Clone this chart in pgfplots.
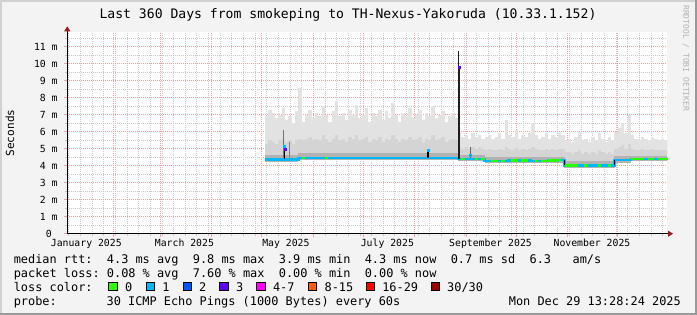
\documentclass[border=0pt]{standalone}
\usepackage{pgfplots}
\pgfplotsset{compat=1.18}
\usepackage{pgfplotstable}
\usetikzlibrary{arrows.meta}
\usepackage{fontspec}
\setmainfont{DejaVu Sans Mono}
\frenchspacing
\definecolor{bgc}{HTML}{F3F3F3}
\definecolor{l0}{HTML}{26FF00}
\definecolor{l1}{HTML}{00B8FF}
\definecolor{l2}{HTML}{0059FF}
\definecolor{l3}{HTML}{5E00FF}
\definecolor{l4}{HTML}{FF00FF}
\definecolor{l8}{HTML}{FF5E00}
\definecolor{l16}{HTML}{FF0000}
\definecolor{l30}{HTML}{A10000}
\definecolor{smA}{HTML}{E2E2E2}
\definecolor{smB}{HTML}{D4D4D4}
\definecolor{smC}{HTML}{B2B2B2}
\definecolor{mgrid}{HTML}{F2A0A0}
\definecolor{ngrid}{HTML}{C8C8C8}
\definecolor{axred}{HTML}{9C1A1A}
\newcommand\lf{\fontsize{11.9bp}{14bp}\selectfont}
\newcommand\af{\fontsize{9.8bp}{12bp}\selectfont}

\pgfplotstableread{
d lo m1 m2 hi med g
122 4.24 4.62 5.3 6.9 4.36 nan
124 4.24 4.62 5.5 7.3 4.36 nan
126 4.24 4.62 5.4 7.1 4.36 nan
128 4.24 4.62 5.3 6.8 4.36 nan
130 4.24 4.62 5.5 7.0 4.36 nan
132 4.24 4.65 5.6 7.4 4.36 nan
134 4.24 4.65 5.4 6.7 4.36 nan
136 4.24 4.62 5.5 6.9 4.36 nan
138 4.24 4.62 5.3 6.5 4.36 nan
140 4.24 4.62 5.5 7.2 4.36 nan
142 4.32 4.72 5.6 8.6 4.45 nan
144 4.32 4.72 5.5 6.6 4.45 4.45
146 4.32 4.72 5.6 7.0 4.45 nan
148 4.32 4.72 5.7 7.3 4.45 nan
150 4.32 4.72 5.5 6.8 4.45 nan
152 4.32 4.72 5.6 7.1 4.45 nan
154 4.32 4.72 5.5 6.9 4.45 nan
156 4.32 4.72 5.8 7.5 4.45 nan
158 4.32 4.72 5.6 7.0 4.45 4.45
160 4.32 4.72 5.4 6.6 4.45 nan
162 4.32 4.72 5.6 7.2 4.45 nan
164 4.32 4.72 5.8 7.8 4.45 nan
166 4.32 4.72 5.5 6.9 4.45 nan
168 4.32 4.72 5.6 7.1 4.45 nan
170 4.32 4.72 5.4 6.7 4.45 nan
172 4.32 4.72 5.7 7.3 4.45 nan
174 4.32 4.72 5.6 7.0 4.45 nan
176 4.32 4.72 5.8 7.6 4.45 nan
178 4.32 4.72 5.5 6.8 4.45 nan
180 4.32 4.72 5.6 7.0 4.45 nan
182 4.32 4.72 5.7 7.4 4.45 nan
184 4.32 4.72 5.4 6.6 4.45 nan
186 4.32 4.72 5.6 7.1 4.45 nan
188 4.32 4.72 5.5 6.9 4.45 nan
190 4.32 4.72 5.7 7.3 4.45 nan
192 4.32 4.72 5.4 6.7 4.45 nan
194 4.32 4.72 5.6 7.2 4.45 nan
196 4.32 4.72 5.5 6.8 4.45 nan
198 4.32 4.72 5.8 7.7 4.45 nan
200 4.32 4.72 5.6 7.0 4.45 nan
202 4.32 4.72 5.4 6.6 4.45 nan
204 4.32 4.72 5.6 7.1 4.45 nan
206 4.32 4.72 5.5 6.9 4.45 nan
208 4.32 4.72 5.7 7.4 4.45 nan
210 4.32 4.72 5.5 6.8 4.45 nan
212 4.32 4.72 5.6 7.0 4.45 nan
214 4.32 4.72 5.7 7.3 4.45 nan
216 4.32 4.72 5.4 6.7 4.45 nan
218 4.32 4.72 5.6 7.1 4.45 nan
220 4.32 4.72 5.5 6.9 4.45 nan
222 4.32 4.72 5.8 7.5 4.45 nan
224 4.32 4.72 5.5 6.8 4.45 nan
226 4.32 4.72 5.6 7.0 4.45 nan
228 4.32 4.72 5.7 7.2 4.45 nan
230 4.32 4.72 5.4 6.6 4.45 nan
232 4.32 4.72 5.5 6.9 4.45 nan
234 4.32 4.72 5.6 7.1 4.45 nan
236 4.32 4.72 5.5 6.8 4.45 nan
238 4.27 4.62 5.1 6.0 4.40 nan
240 4.27 4.62 5.0 5.7 4.40 4.40
242 4.27 4.62 5.1 5.8 4.40 nan
244 4.27 4.62 5.0 5.6 4.40 nan
246 4.27 4.62 5.1 5.9 4.40 nan
248 4.27 4.62 5.0 5.7 4.40 4.40
250 4.27 4.62 5.1 5.8 4.40 nan
252 4.27 4.62 5.0 5.6 4.40 4.40
254 4.15 4.50 4.95 5.7 4.28 nan
256 4.15 4.50 5.0 5.8 4.28 nan
258 4.15 4.50 4.9 5.6 4.28 4.28
260 4.15 4.50 4.95 5.7 4.28 4.28
262 4.15 4.50 5.0 5.9 4.28 nan
264 4.15 4.50 4.9 5.6 4.28 4.28
266 4.15 4.50 5.1 6.7 4.28 nan
268 4.15 4.50 5.0 5.8 4.30 nan
270 4.15 4.50 4.95 5.7 4.30 4.30
272 4.15 4.50 5.05 6.1 4.30 4.30
274 4.15 4.50 4.9 5.6 4.30 nan
276 4.15 4.50 5.0 5.8 4.30 4.30
278 4.15 4.50 4.95 5.7 4.30 4.30
280 4.15 4.50 5.0 5.9 4.30 nan
282 4.15 4.50 5.1 6.5 4.28 nan
284 4.15 4.50 5.0 5.8 4.28 4.28
286 4.15 4.50 4.9 5.6 4.28 nan
288 4.15 4.50 4.95 5.7 4.28 4.28
290 4.15 4.50 5.0 5.9 4.28 4.28
292 4.15 4.50 4.9 5.6 4.30 4.30
294 4.15 4.50 5.0 5.8 4.30 4.30
296 4.15 4.50 4.95 5.7 4.30 4.30
298 4.15 4.50 5.0 5.9 4.32 4.32
300 4.15 4.50 5.0 5.8 4.32 nan
302 3.88 4.25 4.8 5.5 4.02 4.02
304 3.88 4.25 4.8 5.6 4.02 4.02
306 3.88 4.25 4.7 5.4 4.02 4.02
308 3.88 4.25 4.8 5.7 4.02 4.02
310 3.88 4.25 4.9 6.0 4.02 nan
312 3.88 4.25 4.7 5.5 4.02 nan
314 3.88 4.25 4.8 5.6 4.02 4.02
316 3.88 4.25 4.7 5.4 4.02 nan
318 3.88 4.25 4.8 5.7 4.02 nan
320 3.88 4.25 4.7 5.5 4.02 nan
322 3.88 4.25 4.9 5.9 4.02 4.02
324 3.88 4.25 4.8 5.6 4.02 nan
326 3.88 4.25 4.7 5.4 4.02 nan
328 3.88 4.25 4.8 5.7 4.02 4.02
330 3.88 4.25 4.7 5.5 4.02 nan
332 4.18 4.55 5.0 6.0 4.32 nan
334 4.18 4.55 5.1 6.2 4.32 nan
336 4.18 4.55 5.2 6.5 4.32 nan
338 4.18 4.55 5.0 5.9 4.32 nan
340 4.18 4.55 5.3 7.0 4.32 nan
342 4.26 4.60 5.0 5.8 4.38 4.38
344 4.26 4.60 4.95 5.6 4.38 4.38
346 4.26 4.60 4.9 5.5 4.38 4.38
348 4.26 4.60 5.0 5.7 4.38 4.38
350 4.26 4.60 4.95 5.6 4.38 nan
352 4.26 4.60 4.9 5.5 4.38 4.38
354 4.26 4.60 5.0 5.7 4.38 4.38
356 4.26 4.60 4.95 5.6 4.38 nan
358 4.26 4.60 4.9 5.5 4.38 4.38
360 4.26 4.60 4.95 5.6 4.38 4.38
362 4.26 4.60 4.9 5.5 4.38 4.38
}\smoke

\begin{document}
\begin{tikzpicture}
\useasboundingbox (0,0) rectangle (697bp,315bp);
\fill[bgc] (0,0) rectangle (697bp,315bp);
\draw[line width=2bp, draw=black!18] (1bp,0) -- (1bp,314bp) -- (697bp,314bp);
\draw[line width=2bp, draw=black!40] (0,1bp) -- (696bp,1bp) -- (696bp,315bp);

\begin{axis}[
  at={(67.3bp,81.3bp)}, anchor=south west,
  scale only axis, width=599.7bp, height=201.4bp,
  xmin=3.1, xmax=363.6, ymin=0, ymax=11.85,
  axis background/.style={fill=white},
  axis x line=bottom, axis y line=left,
  x axis line style={line width=1bp, -{Triangle[length=5bp,width=6bp,color=axred]}, shorten >=-6bp},
  y axis line style={line width=1bp, -{Triangle[length=5bp,width=6bp,color=axred]}, shorten >=-6bp},
  grid=both,
  major grid style={draw=mgrid, dash pattern=on 1bp off 1bp, line width=0.8bp},
  minor grid style={draw=ngrid, dash pattern=on 1bp off 1bp, line width=0.8bp},
  xtick={31,59,90,120,151,181,212,243,273,304,334},
  xticklabel=\empty,
  minor xtick={4,11,...,361},
  ytick={0,1,...,11}, minor ytick={0.5,1.5,...,11.5},
  yticklabels={0~~,1 m,2 m,3 m,4 m,5 m,6 m,7 m,8 m,9 m,10 m,11 m},
  yticklabel style={font=\af, anchor=east, inner sep=0pt, xshift=-6.5bp},
  tick align=outside, major tick length=3bp, minor tick length=2bp,
  major tick style={draw=mgrid, line width=0.8bp},
  minor tick style={draw=ngrid, line width=0.8bp},
  extra x ticks={14.5,73.5,134.5,195.5,257.5,318.5},
  extra x tick labels={January 2025,March 2025,May 2025,July 2025,September 2025,November 2025},
  extra x tick style={grid=none, major tick length=0pt, xticklabel style={font=\af, anchor=base, inner sep=0pt, yshift=-12.3bp}},
  error bars/error mark=none,
]
% smoke: vertical bands lo..hi, lo..m2, lo..m1 (2 days wide)
\addplot[draw=none, mark=none, error bars/.cd, y dir=both, y explicit, error bar style={draw=smA, line width=3.45bp}]
  table[x expr=\thisrow{d}+1, y expr=(\thisrow{hi}+\thisrow{lo})/2, y error expr=(\thisrow{hi}-\thisrow{lo})/2]{\smoke};
\addplot[draw=none, mark=none, error bars/.cd, y dir=both, y explicit, error bar style={draw=smB, line width=3.45bp}]
  table[x expr=\thisrow{d}+1, y expr=(\thisrow{m2}+\thisrow{lo})/2, y error expr=(\thisrow{m2}-\thisrow{lo})/2]{\smoke};
\addplot[draw=none, mark=none, error bars/.cd, y dir=both, y explicit, error bar style={draw=smC, line width=3.45bp}]
  table[x expr=\thisrow{d}+1, y expr=(\thisrow{m1}+\thisrow{lo})/2, y error expr=(\thisrow{m1}-\thisrow{lo})/2]{\smoke};
% spikes
\addplot[draw=black!55, line width=0.8bp] coordinates {(133,4.4) (133,6.1)};
\addplot[draw=black!50, line width=0.8bp] coordinates {(136.5,4.45) (136.5,5.4)};
\addplot[draw=black!60, line width=1bp] coordinates {(245.5,4.4) (245.5,5.1)};
% median
\addplot[const plot, draw=l1, line width=2.4bp] table[x=d,y=med]{\smoke};
\addplot[only marks, mark=-, mark size=1.7bp, mark options={draw=l0, line width=2.4bp}] table[x expr=\thisrow{d}+1,y=g]{\smoke};
\addplot[draw=black, line width=1.6bp] coordinates {(133.6,4.4) (133.6,5.2)};
\addplot[only marks, mark=square*, mark size=0.9bp, l1] coordinates {(133.6,5.15)};
\addplot[only marks, mark=square*, mark size=0.9bp, l3] coordinates {(134.2,4.98)};
\addplot[draw=black, line width=1.6bp] coordinates {(220,4.45) (220,4.95)};
\addplot[only marks, mark=square*, mark size=0.9bp, l1] coordinates {(220,4.93)};
\addplot[draw=black!88, line width=2.2bp] coordinates {(238.5,4.4) (238.5,9.82)};
\addplot[draw=black!88, line width=1.1bp] coordinates {(238.3,9.82) (238.3,10.76)};
\addplot[only marks, mark=square*, mark size=1bp, l3] coordinates {(238.9,9.82)};
\addplot[only marks, mark=square*, mark size=0.9bp, l1] coordinates {(245.5,4.6)};
\addplot[draw=black, line width=1bp] coordinates {(302,4.32) (302,4.02)};
\addplot[draw=black, line width=1bp] coordinates {(332,4.02) (332,4.32)};
\end{axis}

% title
\node[anchor=base, inner sep=0] at (348bp,296.5bp) {\fontsize{13.1bp}{15bp}\selectfont Last 360 Days from smokeping to TH-Nexus-Yakoruda (10.33.1.152)};
\node[rotate=90, inner sep=0] at (10bp,182bp) {\fontsize{11.1bp}{13bp}\selectfont Seconds};
\node[rotate=-90, anchor=west, inner sep=0, text=black!30] at (686bp,310bp) {\fontsize{8bp}{10bp}\selectfont RRDTOOL / TOBI OETIKER};

% legend
\node[anchor=base west, inner sep=0] at (13.6bp,51.5bp) {\lf median rtt:~~4.3 ms avg~~9.8 ms max~~3.9 ms min~~4.3 ms now~~0.7 ms sd~~6.3~~~am/s};
\node[anchor=base west, inner sep=0] at (13.6bp,37.5bp) {\lf packet loss: 0.08 \% avg~~7.60 \% max~~0.00 \% min~~0.00 \% now};
\node[anchor=base west, inner sep=0] at (13.6bp,23.5bp) {\lf loss color:};
\foreach \bx/\bc/\bt in {108/l0/0, 145.3/l1/1, 182.2/l2/2, 219/l3/3, 256/l4/4-7, 307.6/l8/8-15, 365.3/l16/16-29, 430.2/l30/30\slash 30} {
  \node[draw=black, line width=0.8bp, fill=\bc, minimum size=8.2bp, inner sep=0, anchor=south west] at (\bx bp+0.4bp,23.7bp) {};
  \node[anchor=base west, inner sep=0] at (\bx bp+16.8bp,23.5bp) {\lf \bt};
}
\node[anchor=base west, inner sep=0] at (13.6bp,9.7bp) {\lf probe:};
\node[anchor=base west, inner sep=0] at (106.4bp,9.7bp) {\lf 30 ICMP Echo Pings (1000 Bytes) every 60s};
\node[anchor=base east, inner sep=0] at (681bp,9.7bp) {\lf Mon Dec 29 13:28:24 2025};
\end{tikzpicture}
\end{document}
